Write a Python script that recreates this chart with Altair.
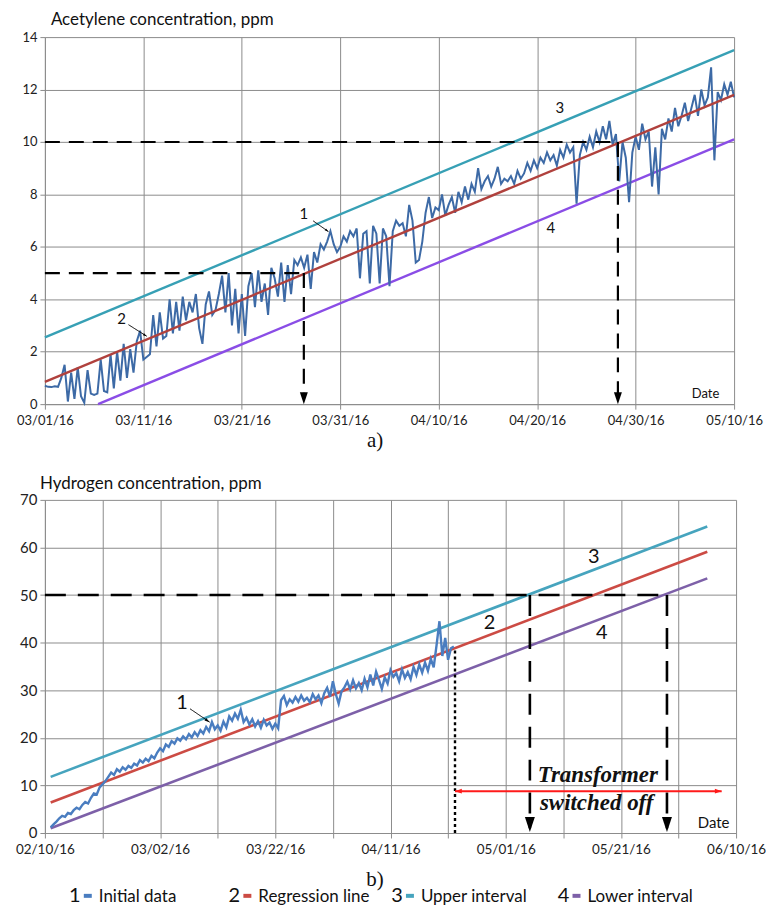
import altair as alt
import pandas as pd

FONT = "Lato"
SERIF = "Liberation Serif"
GRID = "#8c8c8c"

# ---------------- (a) Acetylene ----------------
ac_tick_labels = ["03/01/16", "03/11/16", "03/21/16", "03/31/16",
                  "04/10/16", "04/20/16", "04/30/16", "05/10/16"]
ac_values = [
    0.70, 0.66, 0.65, 0.68, 0.66, 1.00, 1.50, 0.10, 1.20, 0.20, 1.40, 0.30, 0.05, 1.30, 0.40,
    0.35, 0.40, 1.70, 0.50, 0.45, 1.90, 0.60, 2.00, 0.90, 2.30, 1.00, 2.10, 1.20, 2.40, 2.80,
    1.70, 1.80, 1.90, 3.40, 2.20, 3.50, 2.50, 2.60, 4.00, 2.70, 3.90, 2.80, 4.10, 3.20, 3.90,
    3.50, 4.20, 2.90, 2.30, 3.80, 4.30, 3.40, 3.60, 4.20, 4.90, 3.50, 5.00, 3.00, 4.40, 2.70,
    4.20, 2.60, 4.50, 5.00, 3.70, 5.10, 3.90, 4.60, 3.40, 5.20, 4.80, 4.10, 5.40, 3.90, 5.30,
    4.20, 5.50, 5.30, 5.60, 5.20, 5.70, 4.40, 5.80, 5.40, 6.10, 5.90, 6.20, 6.60, 6.10, 5.80,
    6.00, 6.40, 6.20, 6.60, 6.40, 6.70, 4.80, 6.50, 6.60, 4.60, 6.80, 6.50, 4.60, 6.70, 6.40,
    4.50, 6.60, 7.00, 6.80, 6.90, 6.40, 7.60, 7.00, 5.40, 5.50, 6.20, 7.30, 7.90, 7.10, 7.50,
    7.40, 8.00, 7.20, 7.60, 7.90, 7.30, 8.10, 7.70, 8.30, 7.80, 8.40, 8.10, 9.00, 8.20, 8.50,
    8.70, 8.30, 8.60, 9.05, 8.40, 8.60, 8.50, 8.70, 8.40, 8.90, 8.60, 8.80, 9.20, 8.90, 9.30,
    9.00, 9.40, 9.20, 9.60, 9.30, 9.50, 9.10, 9.70, 9.40, 9.90, 9.60, 9.80, 7.65, 9.50, 10.00,
    9.70, 10.20, 9.80, 10.40, 10.00, 10.60, 10.10, 10.80, 9.90, 10.30, 8.50, 10.00, 9.40, 7.70, 9.60,
    10.20, 9.70, 10.70, 10.10, 10.40, 8.30, 9.80, 8.00, 10.50, 10.10, 10.90, 10.40, 11.30, 10.60, 11.00,
    11.50, 10.80, 11.30, 11.80, 11.00, 12.00, 11.40, 11.70, 12.85, 9.30, 11.90, 11.60, 12.20, 11.80, 12.30,
    11.70,
]
ac_days = [i / 3 for i in range(len(ac_values))]
ac_fit_days = [0, 70]
ac_regression = [0.85, 11.8]
ac_upper = [2.55, 13.5]
ac_lower_days = [5.4, 70]
ac_lower = [0.0, 10.1]
ac_thresholds = [5, 10]
ac_cross_days = [26.3, 58.2]

# ---------------- (b) Hydrogen ----------------
h2_tick_labels = ["02/10/16", "03/02/16", "03/22/16", "04/11/16",
                  "05/01/16", "05/21/16", "06/10/16"]
h2_values = [
    1.2, 1.8, 2.4, 3.1, 3.6, 3.4, 4.2, 4.0, 4.8, 5.3,
    5.0, 5.9, 6.5, 6.2, 7.4, 8.3, 8.1, 9.6, 10.2, 10.9,
    11.8, 12.7, 12.2, 13.4, 12.9, 13.8, 13.3, 14.1, 13.7, 14.6,
    14.2, 15.3, 14.8, 15.6, 15.1, 16.2, 15.7, 16.9, 17.8, 17.2,
    18.6, 18.1, 19.3, 18.8, 19.9, 19.4, 20.3, 19.7, 20.8, 20.1,
    21.2, 20.4, 21.6, 20.9, 22.3, 21.4, 23.3, 21.8, 22.6, 21.5,
    23.4, 22.2, 24.5, 23.6, 25.1, 24.0, 25.9, 23.3, 24.2, 22.8,
    23.9, 22.4, 23.5, 22.1, 23.8, 22.6, 23.2, 21.9, 23.0, 22.0,
    27.9, 28.8, 26.9, 28.1, 27.4, 28.6, 27.6, 28.9, 27.8, 28.4,
    27.5, 29.2, 28.1, 28.9, 27.3, 29.4, 30.5, 28.6, 31.9, 29.2,
    27.2, 29.8, 30.6, 31.8, 30.2, 32.1, 30.4, 31.5, 30.0, 32.4,
    30.6, 33.3, 31.0, 33.9, 32.2, 30.3, 32.7, 31.4, 34.2, 32.8,
    33.6, 31.9, 34.4, 32.6, 33.8, 32.3, 34.9, 33.2, 35.4, 33.7,
    35.8, 34.1, 36.6, 34.8, 39.5, 44.5, 37.2, 41.0, 36.4, 38.8,
    39.2,
]
h2_days = [1 + 0.5 * i for i in range(len(h2_values))]
h2_fit_days = [1, 115]
h2_regression = [6.4, 59.1]
h2_upper = [11.8, 64.4]
h2_lower = [1.0, 53.5]
h2_threshold = 50
h2_cross_days = [84.2, 108.0]
h2_switch_day = 71.2
h2_switch_top = 39.0
h2_arrow_end = 117.5
h2_arrow_level = 8.8

legend_nums = ["1", "2", "3", "4"]
legend_labels = ["Initial data", "Regression line", "Upper interval", "Lower interval"]
legend_colors = ["#4A7DC0", "#CC4B44", "#46A4BE", "#7D60A8"]
legend_x = [30, 190, 353, 520]  # layout (pixels from left of lower plot)


def arr_js(labels):
    return "[" + ",".join("'%s'" % l for l in labels) + "]"


def make_axes(xmax, xstep, labels, label_every, xsize, ymax, ystep, ysize):
    if label_every == xstep:
        expr = "%s[round(datum.value/%d)]" % (arr_js(labels), label_every)
    else:
        expr = "datum.value %% %d == 0 ? %s[round(datum.value/%d)] : ''" % (
            label_every, arr_js(labels), label_every)
    X = alt.X("day:Q", scale=alt.Scale(domain=[0, xmax], nice=False, zero=False),
              axis=alt.Axis(values=list(range(0, xmax + 1, xstep)), labelExpr=expr,
                            title=None, grid=True, gridColor=GRID, gridWidth=1,
                            domainColor=GRID, tickColor=GRID, tickSize=5,
                            labelFont=FONT, labelFontSize=xsize, labelColor="#222",
                            labelPadding=5, labelFlush=False, labelOverlap=False))
    Y = alt.Y("val:Q", scale=alt.Scale(domain=[0, ymax], nice=False, zero=True),
              axis=alt.Axis(values=list(range(0, ymax + 1, ystep)), format="d",
                            title=None, grid=True, gridColor=GRID, gridWidth=1,
                            domainColor=GRID, tickColor=GRID, tickSize=5,
                            labelFont=FONT, labelFontSize=ysize, labelColor="#222",
                            labelPadding=3))
    return X, Y


def line(X, Y, days, vals, color, width):
    df = pd.DataFrame({"day": days, "val": vals})
    return alt.Chart(df).mark_line(color=color, strokeWidth=width).encode(x=X, y=Y)


def rules(X, Y, rows, color, width, dash):
    df = pd.DataFrame(rows, columns=["day", "val", "day2", "val2"])
    return alt.Chart(df).mark_rule(color=color, strokeWidth=width, strokeDash=dash).encode(
        x=X, y=Y, x2=alt.X2("day2"), y2=alt.Y2("val2"))


def heads(X, Y, days, vals, path, size, color, angle=0):
    df = pd.DataFrame({"day": days, "val": vals})
    return alt.Chart(df).mark_point(shape=path, size=size, filled=True, color=color,
                                    opacity=1, strokeWidth=0, angle=angle).encode(x=X, y=Y)


def texts(X, Y, days, vals, labels, size, font=FONT, **kw):
    df = pd.DataFrame({"day": days, "val": vals, "t": labels})
    return alt.Chart(df).mark_text(font=font, fontSize=size, color="#111", **kw).encode(
        x=X, y=Y, text="t:N")


DOWN = "M-1,-3L1,-3L0,0Z"
POINTER = "M0,0L0.55,1.9L-0.55,1.9Z"

# ---------------- top chart ----------------
AX, AY = make_axes(70, 10, ac_tick_labels, 10, 13, 14, 2, 13)
top_layers = [
    line(AX, AY, ac_fit_days, ac_upper, "#37A0B5", 2.4),
    line(AX, AY, ac_lower_days, ac_lower, "#8A4DE6", 2.4),
    line(AX, AY, ac_days, ac_values, "#3D6AA6", 2.0),
    line(AX, AY, ac_fit_days, ac_regression, "#B0413D", 2.4),
    rules(AX, AY, [[0, t, d, t] for t, d in zip(ac_thresholds, ac_cross_days)], "black", 2.2, [15, 9]),
    rules(AX, AY, [[d, t, d, 0.4] for t, d in zip(ac_thresholds, ac_cross_days)], "black", 2.2, [15, 9]),
    heads(AX, AY, ac_cross_days, [0, 0], DOWN, 64, "black"),
    texts(AX, AY, [7.8, 26.3, 52.3, 51.4], [3.23, 7.24, 11.3, 6.7], ["2", "1", "3", "4"], 15),
    rules(AX, AY, [[8.49, 3.03, 10.34, 2.59], [27.25, 6.99, 28.8, 6.58]], "black", 1, [1, 0]),
    heads(AX, AY, [10.34], [2.59], POINTER, 16, "black", 122),
    heads(AX, AY, [28.8], [6.58], POINTER, 16, "black", 125),
    texts(AX, AY, [67.1], [0.4], ["Date"], 13),
    alt.Chart(pd.DataFrame({"t": ["Acetylene concentration, ppm"]})).mark_text(
        font=FONT, fontSize=17, color="#111", align="left").encode(
        x=alt.value(6), y=alt.value(-17), text="t:N"),
    alt.Chart(pd.DataFrame({"t": ["a)"]})).mark_text(
        font=SERIF, fontSize=21, color="#111").encode(
        x=alt.value(331), y=alt.value(405), text="t:N"),
]
top = alt.layer(*top_layers).properties(width=691, height=368)

# ---------------- bottom chart ----------------
BX, BY = make_axes(120, 10, h2_tick_labels, 20, 13.5, 70, 10, 15)
legend_df = pd.DataFrame({"num": legend_nums, "lab": legend_labels,
                          "col": legend_colors, "lx": legend_x})
legend_df["dx1"] = legend_df["lx"] + 9
legend_df["dx2"] = legend_df["lx"] + 17
legend_df["tx"] = legend_df["lx"] + 24
bot_layers = [
    line(BX, BY, h2_fit_days, h2_upper, "#46A4BE", 2.6),
    line(BX, BY, h2_fit_days, h2_lower, "#7D60A8", 2.6),
    line(BX, BY, h2_fit_days, h2_regression, "#CC4B44", 2.6),
    line(BX, BY, h2_days, h2_values, "#4A7DC0", 2.4),
    rules(BX, BY, [[0, h2_threshold, h2_cross_days[1], h2_threshold]], "black", 2.6, [21, 12]),
    rules(BX, BY, [[d, h2_threshold, d, 1] for d in h2_cross_days], "black", 2.6, [21, 12]),
    heads(BX, BY, h2_cross_days, [0.2, 0.2], DOWN, 100, "black"),
    rules(BX, BY, [[h2_switch_day, 0, h2_switch_day, h2_switch_top]], "black", 2.4, [3, 3]),
    rules(BX, BY, [[h2_switch_day, h2_arrow_level, h2_arrow_end, h2_arrow_level]], "#FF1A1A", 2, [1, 0]),
    heads(BX, BY, [h2_arrow_end], [h2_arrow_level], "M0,0L-1.7,-0.6L-1.7,0.6Z", 64, "#FF1A1A"),
    heads(BX, BY, [h2_switch_day], [h2_arrow_level], "M0,0L1.7,-0.6L1.7,0.6Z", 64, "#FF1A1A"),
    texts(BX, BY, [96.0], [12.2], ["Transformer"], 23, font=SERIF, fontWeight="bold", fontStyle="italic"),
    texts(BX, BY, [95.8], [6.3], ["switched off"], 23, font=SERIF, fontWeight="bold", fontStyle="italic"),
    texts(BX, BY, [23.8, 77.2, 95.3, 96.7], [27.4, 44.1, 57.9, 42.1], ["1", "2", "3", "4"], 20),
    rules(BX, BY, [[25.2, 26.1, 28.6, 23.3]], "black", 1, [1, 0]),
    heads(BX, BY, [28.6], [23.3], POINTER, 30, "black", 124),
    texts(BX, BY, [116.1], [2.1], ["Date"], 15),
    alt.Chart(pd.DataFrame({"t": ["Hydrogen concentration, ppm"]})).mark_text(
        font=FONT, fontSize=17, color="#111", align="left").encode(
        x=alt.value(-5), y=alt.value(-16), text="t:N"),
    alt.Chart(pd.DataFrame({"t": ["b)"]})).mark_text(
        font=SERIF, fontSize=21, color="#111").encode(
        x=alt.value(331), y=alt.value(381), text="t:N"),
    alt.Chart(legend_df).mark_text(font=FONT, fontSize=20, color="#111").encode(
        x=alt.X("lx:Q", scale=None), y=alt.value(397), text="num:N"),
    alt.Chart(legend_df).mark_rule(strokeWidth=4).encode(
        x=alt.X("dx1:Q", scale=None), x2="dx2:Q", y=alt.value(397),
        color=alt.Color("col:N", scale=None)),
    alt.Chart(legend_df).mark_text(font=FONT, fontSize=17, color="#111", align="left").encode(
        x=alt.X("tx:Q", scale=None), y=alt.value(398), text="lab:N"),
]
bottom = alt.layer(*bot_layers).properties(width=693, height=334)

chart = alt.vconcat(top, bottom, spacing=96, bounds="flush").properties(
    padding={"left": 7, "top": 2, "right": 0, "bottom": 0}
).configure_view(stroke=None)

chart.save("out.html", embed_options={"renderer": "svg", "actions": False})
